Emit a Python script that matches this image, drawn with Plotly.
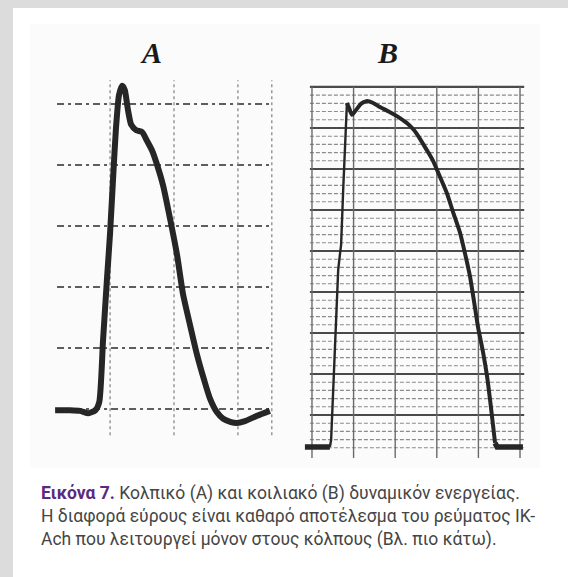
import plotly.graph_objects as go

W, H = 568, 577

# ---------------- data (grid units of each panel) ----------------
# Panel A : atrial action potential
A_x = [-0.86, -0.63, -0.47, -0.34, -0.23, -0.17, -0.11, -0.05, 0.00, 0.05, 0.09, 0.14,
       0.19, 0.23, 0.28, 0.33, 0.41, 0.50, 0.58, 0.66, 0.73, 0.83, 0.94, 1.05, 1.14,
       1.25, 1.36, 1.47, 1.56, 1.67, 1.77, 1.88, 1.98, 2.11, 2.30, 2.50]
A_y = [-0.02, -0.02, -0.03, -0.07, -0.02, 0.11, 1.13, 2.11, 2.89, 3.84, 4.57, 5.15,
       5.30, 5.23, 4.90, 4.66, 4.57, 4.54, 4.39, 4.23, 4.02, 3.66, 3.11, 2.51, 1.89,
       1.38, 0.89, 0.48, 0.18, -0.05, -0.16, -0.21, -0.23, -0.20, -0.11, -0.03]
A_hgrid = [0, 1, 2, 3, 4, 5]
A_vgrid = [0, 1, 2, 2.53]

# Panel B : ventricular action potential
B_x = [-0.17, 0.19, 0.43, 0.46, 0.50, 0.55, 0.60, 0.63, 0.67, 0.70, 0.75, 0.79, 0.84,
       0.89, 0.96, 1.06, 1.18, 1.32, 1.47, 1.63, 1.83, 2.04, 2.28, 2.45, 2.60, 2.76,
       2.91, 3.08, 3.25, 3.39, 3.56, 3.68, 3.80, 3.89, 3.99, 4.11, 4.21, 4.28, 4.35,
       4.40, 4.45, 4.76, 5.07]
B_y = [0.22, 0.22, 0.22, 0.39, 1.37, 2.59, 3.80, 4.54, 4.90, 5.15, 6.49, 7.63, 8.61,
       8.49, 8.32, 8.44, 8.59, 8.66, 8.61, 8.51, 8.41, 8.29, 8.12, 7.95, 7.73, 7.46,
       7.20, 6.80, 6.39, 5.95, 5.44, 4.93, 4.37, 3.80, 3.15, 2.54, 1.93, 1.37, 0.76,
       0.32, 0.22, 0.22, 0.22]
B_upstroke_end = 13          # index where the thin upstroke ends
B_vgrid = [0, 1, 2, 3, 4, 5]
B_hmajor = [1, 2, 3, 4, 5, 6, 7, 8, 9]
B_hminor = [round(i * 0.2, 1) for i in range(0, 45) if i % 5 != 0]

panel_labels = ["A", "B"]
caption_lines = [
    "<b style='color:#5b2a7e'>Εικόνα 7.</b> Κολπικό (Α) και κοιλιακό (Β) δυναμικόν ενεργείας.",
    "Η διαφορά εύρους είναι καθαρό αποτέλεσμα του ρεύματος ΙΚ-",
    "Ach που λειτουργεί μόνον στους κόλπους (Βλ. πιο κάτω).",
]


def px_x(p):
    return p / W


def px_y(p):
    return 1 - p / H


fig = go.Figure()

INK = "#262626"
# ---------------- traces ----------------
fig.add_trace(go.Scatter(x=A_x, y=A_y, mode="lines", xaxis="x", yaxis="y",
                         line=dict(color=INK, width=6, shape="spline", smoothing=0.6),
                         hoverinfo="skip", showlegend=False))
fig.add_trace(go.Scatter(x=B_x[:3], y=B_y[:3], mode="lines", xaxis="x2", yaxis="y2",
                         line=dict(color=INK, width=5.5), hoverinfo="skip", showlegend=False))
fig.add_trace(go.Scatter(x=B_x[2:B_upstroke_end], y=B_y[2:B_upstroke_end], mode="lines",
                         xaxis="x2", yaxis="y2", line=dict(color=INK, width=2.4),
                         hoverinfo="skip", showlegend=False))
fig.add_trace(go.Scatter(x=B_x[B_upstroke_end - 1:-3], y=B_y[B_upstroke_end - 1:-3], mode="lines",
                         xaxis="x2", yaxis="y2",
                         line=dict(color=INK, width=4, shape="spline", smoothing=0.5),
                         hoverinfo="skip", showlegend=False))
fig.add_trace(go.Scatter(x=B_x[-4:], y=B_y[-4:], mode="lines", xaxis="x2", yaxis="y2",
                         line=dict(color=INK, width=5.5), hoverinfo="skip", showlegend=False))

shapes = []
# page background: grey frame + white sheet
shapes.append(dict(type="rect", xref="paper", yref="paper", x0=px_x(13), x1=1,
                   y0=0, y1=px_y(8), fillcolor="white", line=dict(width=0), layer="below"))
shapes.append(dict(type="rect", xref="paper", yref="paper", x0=px_x(30), x1=px_x(540),
                   y0=px_y(468), y1=px_y(24), fillcolor="#fbfbfb", line=dict(width=0), layer="below"))

# panel A grid
for g in A_hgrid:
    shapes.append(dict(type="line", xref="x", yref="y", x0=-0.83, x1=2.53, y0=g, y1=g,
                       line=dict(color="#5e5e5e", width=1.8, dash="7px,4px,3px,4px"), layer="below"))
for g in A_vgrid:
    shapes.append(dict(type="line", xref="x", yref="y", x0=g, x1=g, y0=-0.43, y1=5.39,
                       line=dict(color="#8a8a8a", width=1.3, dash="3px,3px"), layer="below"))

# panel B grid
for g in B_hminor:
    shapes.append(dict(type="line", xref="x2", yref="y2", x0=-0.05, x1=5.1, y0=g, y1=g,
                       line=dict(color="#8c8c8c", width=1.1, dash="4px,2px"), layer="below"))
for g in B_hmajor:
    shapes.append(dict(type="line", xref="x2", yref="y2", x0=-0.05, x1=5.1, y0=g, y1=g,
                       line=dict(color="#4a4a4a", width=2.2), layer="below"))
for g in B_vgrid:
    shapes.append(dict(type="line", xref="x2", yref="y2", x0=g, x1=g, y0=-0.05, y1=9.0,
                       line=dict(color="#6a6a6a", width=1.4), layer="below"))

annotations = []
for lab, xp in zip(panel_labels, [151, 387]):
    annotations.append(dict(text=f"<b><i>{lab}</i></b>", xref="paper", yref="paper",
                            x=px_x(xp), y=px_y(52), xanchor="center", yanchor="middle",
                            showarrow=False,
                            font=dict(family="Liberation Serif, serif", size=30, color="#1a1a1a")))
for line, yp in zip(caption_lines, [493, 516, 539]):
    annotations.append(dict(text=line, xref="paper", yref="paper", x=px_x(39), y=px_y(yp),
                            xanchor="left", yanchor="middle", showarrow=False, align="left",
                            font=dict(family="Roboto, sans-serif", size=17.5, color="#454545")))

hidden = dict(showgrid=False, zeroline=False, showticklabels=False, ticks="",
              showline=False, fixedrange=True)

fig.update_layout(
    width=W, height=H, autosize=False,
    margin=dict(l=0, r=0, t=0, b=0, pad=0),
    paper_bgcolor="#dcdcdc", plot_bgcolor="rgba(0,0,0,0)",
    xaxis=dict(domain=[px_x(50), px_x(275)], range=[-0.94, 2.58], anchor="y", **hidden),
    yaxis=dict(domain=[px_y(440), px_y(75)], range=[-0.508, 5.475], anchor="x", **hidden),
    xaxis2=dict(domain=[px_x(300), px_x(530)], range=[-0.288, 5.24], anchor="y2", **hidden),
    yaxis2=dict(domain=[px_y(462), px_y(80)], range=[-0.146, 9.17], anchor="x2", **hidden),
    shapes=shapes, annotations=annotations, showlegend=False,
)

fig.write_html("out.html")
